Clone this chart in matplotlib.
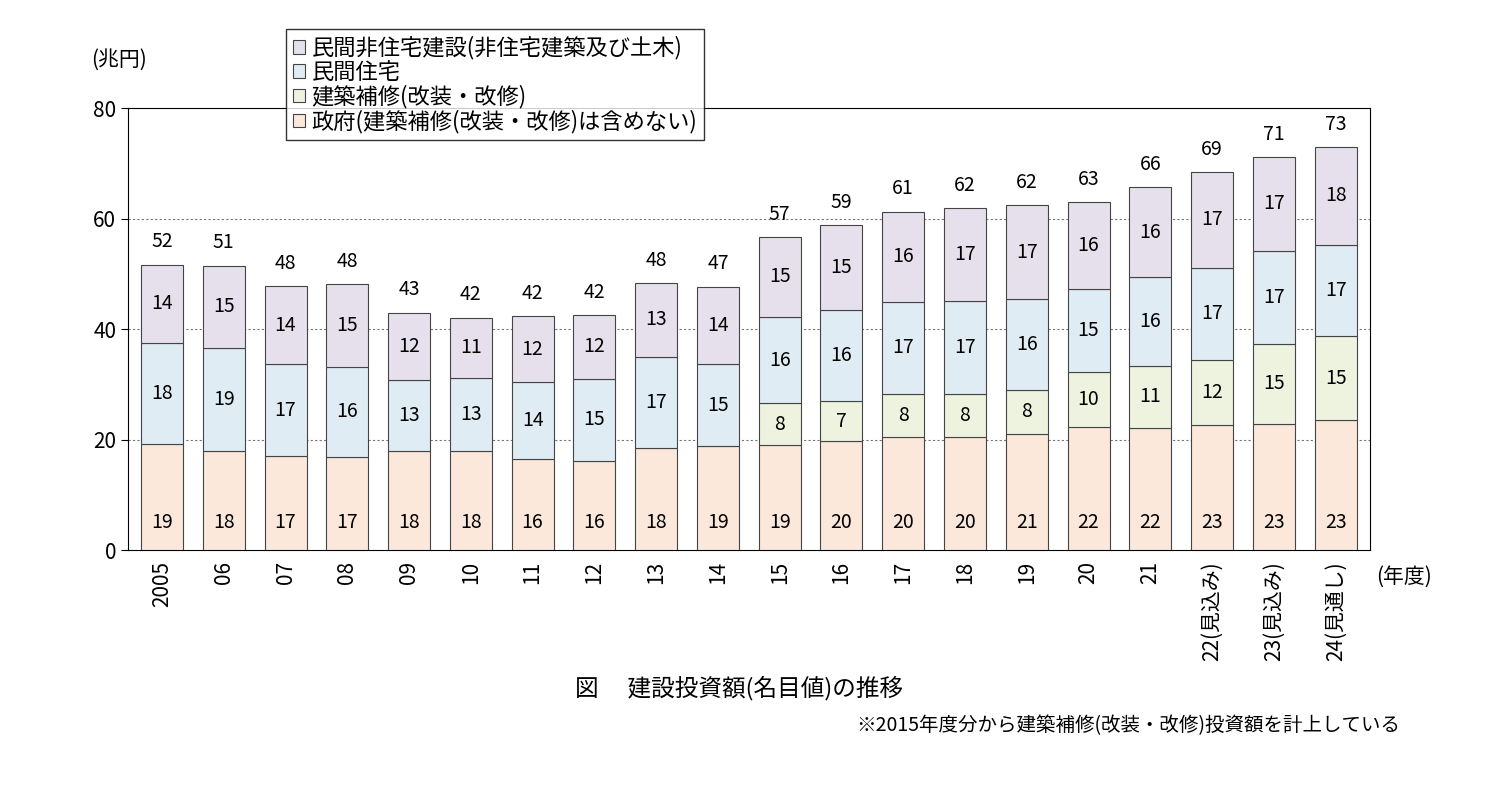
import matplotlib
matplotlib.use("Agg")
import matplotlib.pyplot as plt
import numpy as np

plt.rcParams["font.family"] = ["Noto Sans CJK JP"]

labels = ["2005","06","07","08","09","10","11","12","13","14","15","16","17","18","19","20","21",
          "22(見込み)","23(見込み)","24(見通し)"]
gov = [19.2,17.9,17.0,16.8,18.0,18.0,16.4,16.2,18.5,18.8,19.0,19.7,20.5,20.4,21.1,22.2,22.1,22.7,22.8,23.5]
repair = [0,0,0,0,0,0,0,0,0,0,7.6,7.3,7.7,7.9,7.9,10.0,11.3,11.8,14.6,15.3]
housing = [18.3,18.7,16.7,16.4,12.8,13.1,14.1,14.8,16.5,14.8,15.6,16.5,16.8,16.8,16.4,15.0,16.0,16.6,16.8,16.5]
nonres = [14.2,14.9,14.1,15.0,12.2,11.0,11.8,11.6,13.4,14.1,14.5,15.3,16.3,16.8,17.0,15.8,16.3,17.4,17.0,17.7]
gov_lbl = [19,18,17,17,18,18,16,16,18,19,19,20,20,20,21,22,22,23,23,23]
rep_lbl = [None]*10 + [8,7,8,8,8,10,11,12,15,15]
hou_lbl = [18,19,17,16,13,13,14,15,17,15,16,16,17,17,16,15,16,17,17,17]
non_lbl = [14,15,14,15,12,11,12,12,13,14,15,15,16,17,17,16,16,17,17,18]
totals = [52,51,48,48,43,42,42,42,48,47,57,59,61,62,62,63,66,69,71,73]
series_names = ["民間非住宅建設(非住宅建築及び土木)","民間住宅","建築補修(改装・改修)","政府(建築補修(改装・改修)は含めない)"]
colors = ["#e6e0ec","#dfecf3","#eef3e0","#fbe8db"]

fig = plt.figure(figsize=(14.94,7.96), dpi=100)
ax = fig.add_axes([0.0857,0.309,0.831,0.555])
x = np.arange(len(labels))
w = 0.68
ec = "#444444"
b0 = np.zeros(len(x))
stacks = [(gov,gov_lbl,colors[3]),(repair,rep_lbl,colors[2]),(housing,hou_lbl,colors[1]),(nonres,non_lbl,colors[0])]
for vals, lbls, c in stacks:
    v = np.array(vals)
    mask = v > 0
    ax.bar(x[mask], v[mask], w, bottom=b0[mask], color=c, edgecolor=ec, linewidth=0.8, zorder=3)
    for i in x:
        if lbls[i] is not None:
            ypos = b0[i] + (v[i]/2 if c != colors[3] else 5)
            ax.text(i, ypos, str(lbls[i]), ha="center", va="center", fontsize=14, zorder=4)
    b0 = b0 + v
for i in x:
    ax.text(i, b0[i] + 2.2, str(totals[i]), ha="center", va="bottom", fontsize=14)

ax.set_xlim(-0.55, len(x) - 0.45)
ax.set_ylim(0, 80)
ax.set_yticks([0,20,40,60,80])
ax.tick_params(axis="y", labelsize=15, length=5)
ax.set_xticks(x)
ax.set_xticklabels(labels, rotation=90, fontsize=15)
ax.tick_params(axis="x", length=0, pad=8)
for yv in [20,40,60]:
    ax.axhline(yv, color="#777777", linestyle=(0,(2,2)), linewidth=0.8, zorder=1)
for s in ax.spines.values():
    s.set_linewidth(0.8)
ax.text(-0.03, 1.11, "(兆円)", transform=ax.transAxes, fontsize=15, ha="left", va="center")
fig.text(0.94, 0.275, "(年度)", fontsize=15, ha="center", va="center")
fig.text(0.495, 0.135, "図　 建設投資額(名目値)の推移", fontsize=17, ha="center", va="center")
fig.text(0.937, 0.088, "※2015年度分から建築補修(改装・改修)投資額を計上している", fontsize=14, ha="right", va="center")

from matplotlib.patches import Patch
handles = [Patch(facecolor=c, edgecolor=ec, linewidth=0.8) for c in colors]
leg = fig.legend(handles, series_names, loc="upper left", bbox_to_anchor=(0.184, 0.977),
                 fontsize=16, frameon=True, fancybox=False, edgecolor="black",
                 handlelength=0.55, handleheight=0.55, handletextpad=0.3, labelspacing=0.05, borderpad=0.3)
leg.get_frame().set_linewidth(1.0)
fig.savefig("out.png", dpi=100)
